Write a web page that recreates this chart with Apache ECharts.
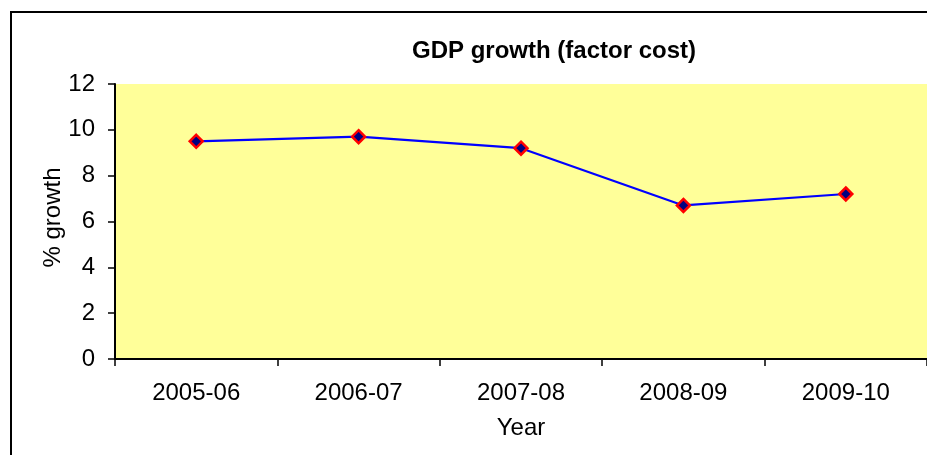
<!DOCTYPE html>
<html>
<head>
<meta charset="utf-8">
<script src="https://cdn.jsdelivr.net/npm/echarts@6/dist/echarts.min.js"></script>
<style>
  html, body { margin: 0; padding: 0; background: #fff; }
  #chart { width: 927px; height: 455px; }
</style>
</head>
<body>
<div id="chart"></div>
<script>
const years = ['2005-06', '2006-07', '2007-08', '2008-09', '2009-10'];
const growth = [9.5, 9.7, 9.2, 6.7, 7.2];
const yTicks = [0, 12, 2]; // min, max, step

const font = 'Liberation Sans, Arial, sans-serif';
const chart = echarts.init(document.getElementById('chart'), null, {renderer: 'canvas'});
const option = {
  animation: false,
  title: {
    text: 'GDP growth (factor cost)',
    left: 549,
    textAlign: 'center',
    top: 34,
    textStyle: {fontFamily: font, fontSize: 24, fontWeight: 'bold', color: '#000'}
  },
  graphic: [{
    type: 'rect',
    shape: {x: 11, y: 12, width: 1000, height: 600},
    style: {fill: 'none', stroke: '#000', lineWidth: 2},
    silent: true
  }],
  grid: {
    left: 115, top: 84, right: 0, bottom: 96,
    show: true, backgroundColor: '#FFFF99', borderWidth: 0
  },
  xAxis: {
    type: 'category',
    data: years,
    boundaryGap: true,
    name: 'Year',
    nameLocation: 'middle',
    nameGap: 57,
    nameMoveOverlap: false,
    nameTextStyle: {fontFamily: font, fontSize: 24, color: '#000'},
    axisLine: {lineStyle: {color: '#000', width: 2}},
    axisTick: {show: true, length: 7, lineStyle: {color: '#000', width: 1.5}},
    axisLabel: {fontFamily: font, fontSize: 24, color: '#000', margin: 22}
  },
  yAxis: {
    type: 'value',
    min: yTicks[0], max: yTicks[1], interval: yTicks[2],
    name: '% growth',
    nameLocation: 'middle',
    nameGap: 50,
    nameMoveOverlap: false,
    nameTextStyle: {fontFamily: font, fontSize: 24, color: '#000', padding: [0, 0, 0, 8]},
    axisLine: {show: true, lineStyle: {color: '#000', width: 2}},
    axisTick: {show: true, length: 7, lineStyle: {color: '#000', width: 1.5}},
    axisLabel: {fontFamily: font, fontSize: 24, color: '#000', margin: 20},
    splitLine: {show: false}
  },
  series: [{
    type: 'line',
    data: growth,
    symbol: 'diamond',
    symbolSize: 13,
    lineStyle: {color: '#0000FF', width: 2.2},
    itemStyle: {color: '#000080', borderColor: '#FF0000', borderWidth: 2.5}
  }]
};
chart.setOption(option);
</script>
</body>
</html>
